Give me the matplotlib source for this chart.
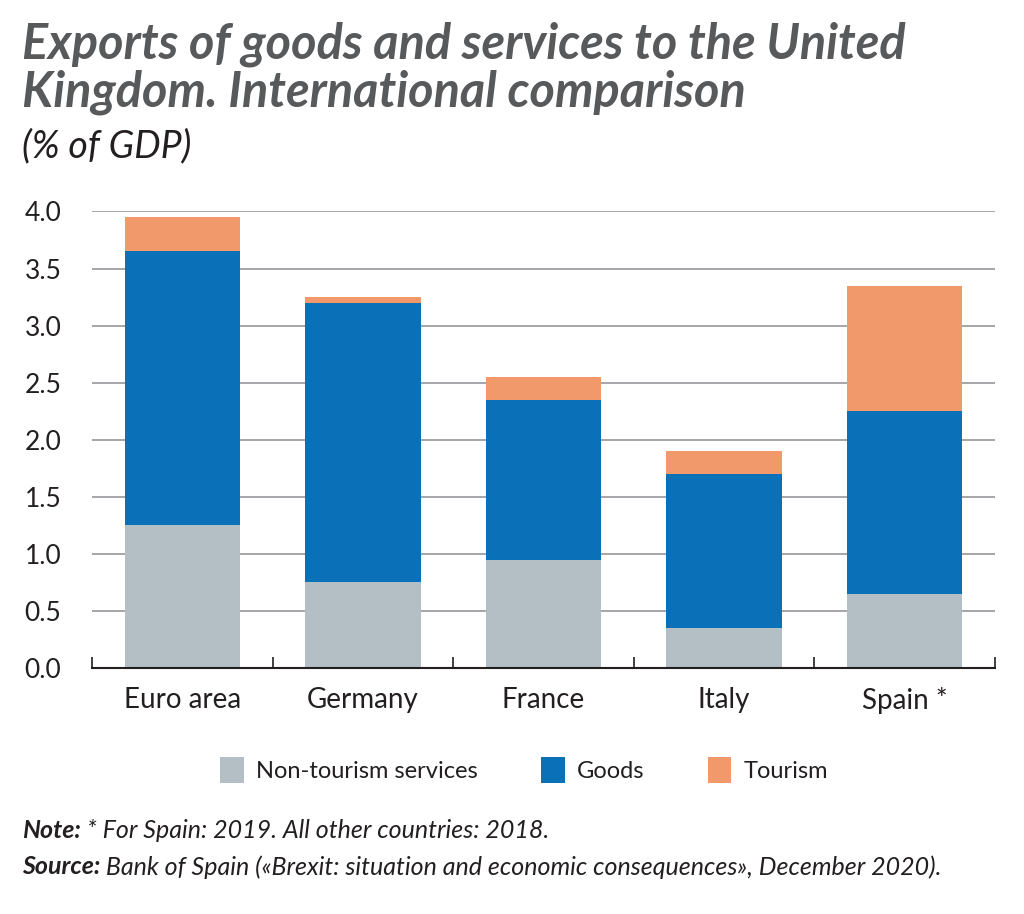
import matplotlib
matplotlib.use("Agg")
import matplotlib.pyplot as plt
import numpy as np

# data (% of GDP)
countries = ["Euro area", "Germany", "France", "Italy", "Spain *"]
non_tourism = [1.25, 0.75, 0.95, 0.35, 0.65]
goods = [2.40, 2.45, 1.40, 1.35, 1.60]
tourism = [0.30, 0.05, 0.20, 0.20, 1.10]
series_names = ["Non-tourism services", "Goods", "Tourism"]
yticks = [0.0, 0.5, 1.0, 1.5, 2.0, 2.5, 3.0, 3.5, 4.0]

colors = ["#b3bfc5", "#0a70b7", "#f1996a"]
text_col = "#231f20"
title_col = "#58595b"
plt.rcParams["font.family"] = ["Lato", "DejaVu Sans"]

fig = plt.figure(figsize=(10.24, 9.14), dpi=100)
ax = fig.add_axes([92 / 1024, 1 - 668 / 914, (995 - 92) / 1024, (668 - 211) / 914])

x = np.arange(len(countries))
bottom = np.zeros(len(countries))
for vals, name, col in zip([non_tourism, goods, tourism], series_names, colors):
    ax.bar(x, vals, width=0.64, bottom=bottom, color=col, label=name, zorder=3)
    bottom += np.array(vals)

ax.set_xlim(-0.5, len(countries) - 0.5)
ax.set_ylim(0, 4.004)
ax.set_yticks(yticks)
ax.set_yticklabels([f"{v:.1f}" for v in yticks], fontsize=19, color=text_col)
ax.yaxis.grid(True, color="#9d9fa2", linewidth=1.3, zorder=0)
ax.tick_params(axis="y", length=0, pad=22)

# category labels centred, ticks on the category boundaries
ax.set_xticks(x)
ax.set_xticklabels(countries, fontsize=20, color=text_col)
ax.tick_params(axis="x", length=0, pad=14)
ax.set_xticks(np.arange(len(countries) + 1) - 0.5, minor=True)
ax.tick_params(axis="x", which="minor", length=8, width=1.2, color=text_col, direction="in")

for s in ["top", "right", "left"]:
    ax.spines[s].set_visible(False)
ax.spines["bottom"].set_color(text_col)
ax.spines["bottom"].set_linewidth(1.5)
ax.spines["bottom"].set_zorder(4)

leg = fig.legend(loc="center", bbox_to_anchor=(524 / 1024, 1 - 770 / 914), ncol=3,
                 frameon=False, fontsize=17, handlelength=1.0, handleheight=1.3,
                 columnspacing=2.7, handletextpad=0.5)
for t in leg.get_texts():
    t.set_color(text_col)

# titles
fig.text(22 / 1024, 1 - 44 / 914, "Exports of goods and services to the United",
         fontsize=35, fontweight="bold", style="italic", color=title_col, va="center")
fig.text(22 / 1024, 1 - 92 / 914, "Kingdom. International comparison",
         fontsize=35, fontweight="bold", style="italic", color=title_col, va="center")
fig.text(22 / 1024, 1 - 146 / 914, "(% of GDP)",
         fontsize=27, style="italic", color=text_col, va="center")

# notes: bold label followed by italic text
renderer = fig.canvas.get_renderer()
for ypix, lab, rest in [(831, "Note:", " * For Spain: 2019. All other countries: 2018."),
                        (867, "Source:", " Bank of Spain («Brexit: situation and economic consequences», December 2020).")]:
    t1 = fig.text(22 / 1024, 1 - ypix / 914, lab, fontsize=18, fontweight="bold",
                  style="italic", color=text_col, va="center")
    bb = t1.get_window_extent(renderer)
    fig.text(bb.x1 / fig.bbox.width, 1 - ypix / 914, rest, fontsize=18,
             style="italic", color=text_col, va="center")

fig.savefig("out.png", dpi=100, facecolor="white")
